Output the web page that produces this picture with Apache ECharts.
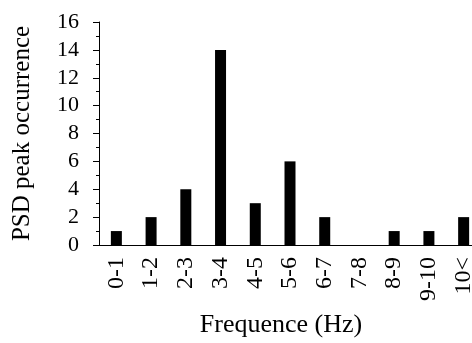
<!DOCTYPE html>
<html>
<head>
<meta charset="utf-8">
<script src="https://cdn.jsdelivr.net/npm/echarts@6/dist/echarts.min.js"></script>
<style>
  html, body { margin: 0; padding: 0; background: #fff; overflow: hidden; }
  #frame { width: 472px; height: 343px; overflow: hidden; }
  /* the plot runs a few px past the right edge in the original, so draw wider and clip */
  #chart { width: 481px; height: 343px; }
</style>
</head>
<body>
<div id="frame"><div id="chart"></div></div>
<script>
const categories = ["0-1", "1-2", "2-3", "3-4", "4-5", "5-6", "6-7", "7-8", "8-9", "9-10", "10<"];
const occurrences = [1, 2, 4, 14, 3, 6, 2, 0, 1, 1, 2];

const FONT = "'Liberation Serif', 'Times New Roman', serif";

const chart = echarts.init(document.getElementById("chart"));
chart.setOption({
  animation: false,
  grid: { left: 99, right: 0, top: 22, bottom: 97 },
  xAxis: {
    type: "category",
    data: categories,
    name: "Frequence (Hz)",
    nameLocation: "middle",
    nameGap: 67,
    nameTextStyle: { fontFamily: FONT, fontSize: 26, color: "#000", padding: [0, 18, 0, 0] },
    axisLine: { lineStyle: { color: "#000", width: 1 } },
    axisTick: { show: false },
    axisLabel: {
      interval: 0,
      rotate: 90,
      margin: 12,
      fontFamily: FONT,
      fontSize: 24,
      color: "#000",
    },
  },
  yAxis: {
    type: "value",
    min: 0,
    max: 16,
    interval: 2,
    name: "PSD peak occurrence",
    nameLocation: "middle",
    nameGap: 64,
    nameTextStyle: { fontFamily: FONT, fontSize: 25, color: "#000" },
    axisLine: { show: true, lineStyle: { color: "#000", width: 1 } },
    axisTick: { show: true, length: 6, lineStyle: { color: "#000" } },
    minorTick: { show: true, splitNumber: 2, length: 3, lineStyle: { color: "#000" } },
    splitLine: { show: false },
    axisLabel: { margin: 20, fontFamily: FONT, fontSize: 22, color: "#000" },
  },
  series: [
    {
      type: "bar",
      data: occurrences,
      barWidth: 11,
      itemStyle: { color: "#000" },
    },
  ],
});
</script>
</body>
</html>
